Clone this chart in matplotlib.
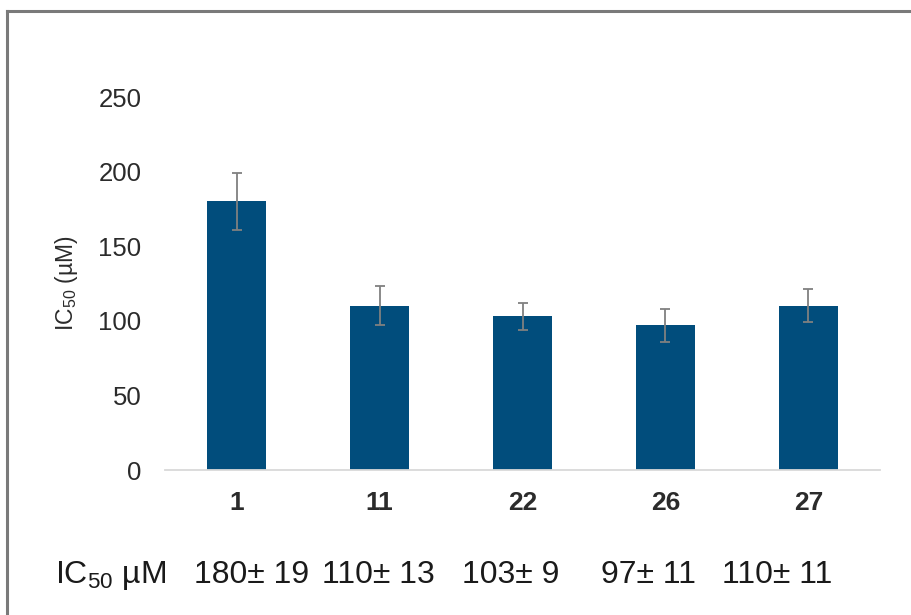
import matplotlib
matplotlib.use("Agg")
import matplotlib.pyplot as plt
from matplotlib.lines import Line2D

plt.rcParams["font.family"] = ["Liberation Sans", "DejaVu Sans"]
plt.rcParams["mathtext.fontset"] = "custom"
plt.rcParams["mathtext.rm"] = "Liberation Sans"
plt.rcParams["mathtext.default"] = "regular"

# Compounds and their IC50 values (µM) with standard deviations
compounds = ["1", "11", "22", "26", "27"]
ic50 = [180, 110, 103, 97, 110]
sd = [19, 13, 9, 11, 11]
y_ticks = [0, 50, 100, 150, 200, 250]

bar_color = "#014d7c"
err_color = "#808080"

fig = plt.figure(figsize=(9.12, 6.15), dpi=100)
ax = fig.add_axes([165 / 912, 1 - 470 / 615, 715 / 912, 373 / 615])

x = list(range(len(compounds)))
ax.bar(x, ic50, width=0.41, color=bar_color, zorder=2)
ax.errorbar(x, ic50, yerr=sd, fmt="none", ecolor=err_color,
            elinewidth=1.3, capsize=3.6, capthick=1.3, zorder=3)

ax.set_xlim(-0.5, len(compounds) - 0.5)
ax.set_ylim(0, 250)
ax.set_yticks(y_ticks)
ax.set_yticklabels([str(t) for t in y_ticks], fontsize=18.5, color="#2b2b2b")
ax.set_xticks(x)
ax.set_xticklabels(compounds, fontsize=19, fontweight="bold", color="#2b2b2b")
ax.tick_params(axis="both", length=0)
ax.tick_params(axis="y", pad=17)
ax.tick_params(axis="x", pad=15)

for side in ["top", "right", "left"]:
    ax.spines[side].set_visible(False)
ax.spines["bottom"].set_color("#d9d9d9")
ax.spines["bottom"].set_linewidth(1.3)

ax.set_ylabel(r"IC$_{50}$ (µM)", fontsize=16.5, color="#2b2b2b", labelpad=13)

# Summary row of IC50 values beneath the compound labels
row_y = 1 - 575 / 615
fig.text(55 / 912, row_y, r"IC$_{50}$ µM", fontsize=23, color="#1a1a1a",
         ha="left", va="center")
label_centers = [252, 378, 511, 649, 777]
for cx, v, e in zip(label_centers, ic50, sd):
    fig.text(cx / 912, row_y, f"{v}± {e}", fontsize=23, color="#1a1a1a",
             ha="center", va="center")

# Gray frame edges along the left and top of the figure
fig.add_artist(Line2D([7 / 912, 7 / 912], [0, 1 - 11 / 615],
                      transform=fig.transFigure, color="#7a7a7a", lw=2.2))
fig.add_artist(Line2D([7 / 912, 1], [1 - 11 / 615, 1 - 11 / 615],
                      transform=fig.transFigure, color="#7a7a7a", lw=2.2))

fig.savefig("out.png", dpi=100, facecolor="white")
